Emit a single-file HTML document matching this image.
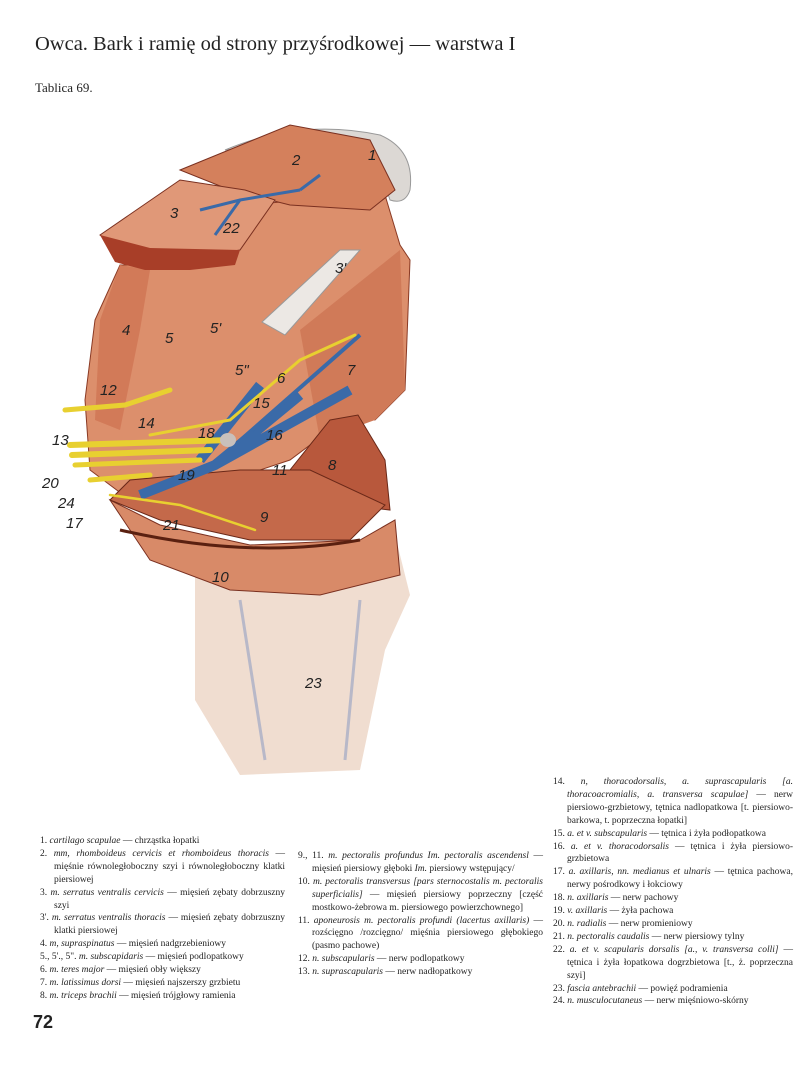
<!DOCTYPE html>
<html><head><meta charset="utf-8"><style>
body{margin:0;background:#fff;width:800px;height:1067px;position:relative;overflow:hidden;font-family:"Liberation Serif",serif;color:#222}
.t{position:absolute}
.leg{position:absolute;font-size:9.5px;line-height:12.9px;text-align:justify}
.leg p{margin:0;padding-left:14px;text-indent:-14px}
.leg i{font-style:italic}
</style></head><body>
<div class="t" style="left:35px;top:33px;font-size:20.5px">Owca. Bark i ramię od strony przyśrodkowej — warstwa I</div>
<div class="t" style="left:35px;top:80px;font-size:13px">Tablica 69.</div>
<svg width="800" height="800" style="position:absolute;left:0;top:0" font-family="Liberation Sans,sans-serif" font-style="italic">
<path d="M225,150 Q300,118 380,135 Q415,150 410,190 Q405,205 390,200 L370,140 Z" fill="#dcd8d4" stroke="#999"/>
<path d="M195,700 L240,775 L360,770 L385,650 L410,595 L395,535 L195,565 Z" fill="#f0ddd0"/>
<path d="M240,600 L265,760 M360,600 L345,760" stroke="#b8b8c8" stroke-width="3" fill="none"/>
<path d="M110,500 L160,525 L250,545 L360,540 L395,520 L400,575 L320,595 L230,590 L150,560 Z" fill="#d88a68" stroke="#7a3020"/>
<path d="M120,265 L170,265 L250,205 L300,200 L385,195 L400,245 L410,260 L405,390 L375,420 L350,415 L290,460 L200,490 L130,500 L90,470 L85,400 L95,320 Z" fill="#dc8f6c" stroke="#8a3a24"/>
<path d="M300,330 L400,250 L405,390 L375,420 L320,440 Z" fill="#d07a58"/>
<path d="M120,265 L100,320 L95,420 L120,430 L140,330 L150,270 Z" fill="#d27a58"/>
<path d="M262,322 L340,250 L360,250 L285,335 Z" fill="#ece8e4" stroke="#999"/>
<path d="M180,170 L290,125 L370,140 L395,190 L370,210 L290,205 L230,190 Z" fill="#d4805c" stroke="#7a3020"/>
<path d="M100,235 L180,180 L245,190 L275,200 L240,250 L180,260 L130,258 Z" fill="#e09878" stroke="#7a3020"/>
<path d="M100,235 L150,248 L240,250 L235,265 L190,270 L145,270 L115,262 Z" fill="#a83e28"/>
<path d="M330,420 L358,415 L385,460 L390,510 L345,505 L290,470 Z" fill="#b8583c" stroke="#6a2818"/>
<path d="M130,480 L240,470 L310,470 L385,505 L350,540 L250,540 L160,520 L110,500 Z" fill="#c4694a" stroke="#6a2818"/>
<path d="M120,530 Q250,560 360,540" stroke="#5a2010" stroke-width="3" fill="none"/>
<path d="M200,210 L240,200 L300,190 M240,200 L215,235 M300,190 L320,175" stroke="#3a6aa8" stroke-width="3" fill="none"/>
<path d="M140,495 L215,465 L300,395 M215,465 L350,390 M200,460 L260,385" stroke="#3a6aa8" stroke-width="10" fill="none"/>
<path d="M235,445 L360,335" stroke="#3a6aa8" stroke-width="4" fill="none"/>
<g stroke="#e8d030" fill="none" stroke-linecap="round">
<path d="M70,445 L230,440" stroke-width="6"/><path d="M72,455 L210,450" stroke-width="6"/>
<path d="M75,465 L200,460" stroke-width="5"/><path d="M90,480 L150,475" stroke-width="5"/>
<path d="M65,410 L125,405 L170,390" stroke-width="5"/>
<path d="M110,495 L180,505 L255,530" stroke-width="2.5"/>
<path d="M150,435 L230,420 L300,360 L355,335" stroke-width="3"/>
</g>
<ellipse cx="228" cy="440" rx="8" ry="7" fill="#c8c0bc"/>
<g font-size="15" fill="#222">
<text x="368" y="160">1</text><text x="292" y="165">2</text><text x="170" y="218">3</text><text x="335" y="273">3'</text>
<text x="122" y="335">4</text><text x="165" y="343">5</text><text x="210" y="333">5'</text><text x="235" y="375">5"</text>
<text x="277" y="383">6</text><text x="347" y="375">7</text><text x="328" y="470">8</text><text x="260" y="522">9</text>
<text x="212" y="582">10</text><text x="272" y="475">11</text><text x="100" y="395">12</text><text x="52" y="445">13</text>
<text x="138" y="428">14</text><text x="253" y="408">15</text><text x="266" y="440">16</text><text x="66" y="528">17</text>
<text x="198" y="438">18</text><text x="178" y="480">19</text><text x="42" y="488">20</text><text x="163" y="530">21</text>
<text x="223" y="233">22</text><text x="305" y="688">23</text><text x="58" y="508">24</text>
</g>
</svg>
<div class="leg" style="left:40px;top:835px;width:245px">
<p>1. <i>cartilago scapulae</i> — chrząstka łopatki</p>
<p>2. <i>mm, rhomboideus cervicis et rhomboideus thoracis</i> — mięśnie równoległoboczny szyi i równoległoboczny klatki piersiowej</p>
<p>3. <i>m. serratus ventralis cervicis</i> — mięsień zębaty dobrzuszny szyi</p>
<p>3'. <i>m. serratus ventralis thoracis</i> — mięsień zębaty dobrzuszny klatki piersiowej</p>
<p>4. <i>m, supraspinatus</i> — mięsień nadgrzebieniowy</p>
<p>5., 5'., 5". <i>m. subscapidaris</i> — mięsień podlopatkowy</p>
<p>6. <i>m. teres major</i> — mięsień obły większy</p>
<p>7. <i>m. latissimus dorsi</i> — mięsień najszerszy grzbietu</p>
<p>8. <i>m. triceps brachii</i> — mięsień trójgłowy ramienia</p>
</div>
<div class="leg" style="left:298px;top:850px;width:245px">
<p>9., 11. <i>m. pectoralis profundus Im. pectoralis ascendensl</i> — mięsień piersiowy głęboki <i>Im.</i> piersiowy wstępujący/</p>
<p>10. <i>m. pectoralis transversus [pars sternocostalis m. pectoralis superficialis]</i> — mięsień piersiowy poprzeczny [część mostkowo-żebrowa m. piersiowego powierzchownego]</p>
<p>11. <i>aponeurosis m. pectoralis profundi (lacertus axillaris)</i> — rozścięgno /rozcięgno/ mięśnia piersiowego głębokiego (pasmo pachowe)</p>
<p>12. <i>n. subscapularis</i> — nerw podlopatkowy</p>
<p>13. <i>n. suprascapularis</i> — nerw nadłopatkowy</p>
</div>
<div class="leg" style="left:553px;top:776px;width:240px">
<p>14. <i>n, thoracodorsalis, a. suprascapularis [a. thoracoacromialis, a. transversa scapulae]</i> — nerw piersiowo-grzbietowy, tętnica nadlopatkowa [t. piersiowo-barkowa, t. poprzeczna łopatki]</p>
<p>15. <i>a. et v. subscapularis</i> — tętnica i żyła podłopatkowa</p>
<p>16. <i>a. et v. thoracodorsalis</i> — tętnica i żyła piersiowo-grzbietowa</p>
<p>17. <i>a. axillaris, nn. medianus et ulnaris</i> — tętnica pachowa, nerwy pośrodkowy i łokciowy</p>
<p>18. <i>n. axillaris</i> — nerw pachowy</p>
<p>19. <i>v. axillaris</i> — żyła pachowa</p>
<p>20. <i>n. radialis</i> — nerw promieniowy</p>
<p>21. <i>n. pectoralis caudalis</i> — nerw piersiowy tylny</p>
<p>22. <i>a. et v. scapularis dorsalis [a., v. transversa colli]</i> — tętnica i żyła łopatkowa dogrzbietowa [t., ż. poprzeczna szyi]</p>
<p>23. <i>fascia antebrachii</i> — powięź podramienia</p>
<p>24. <i>n. musculocutaneus</i> — nerw mięśniowo-skórny</p>
</div>
<div class="t" style="left:33px;top:1012px;font-size:18px;font-weight:bold;font-family:'Liberation Sans',sans-serif">72</div>
</body></html>
